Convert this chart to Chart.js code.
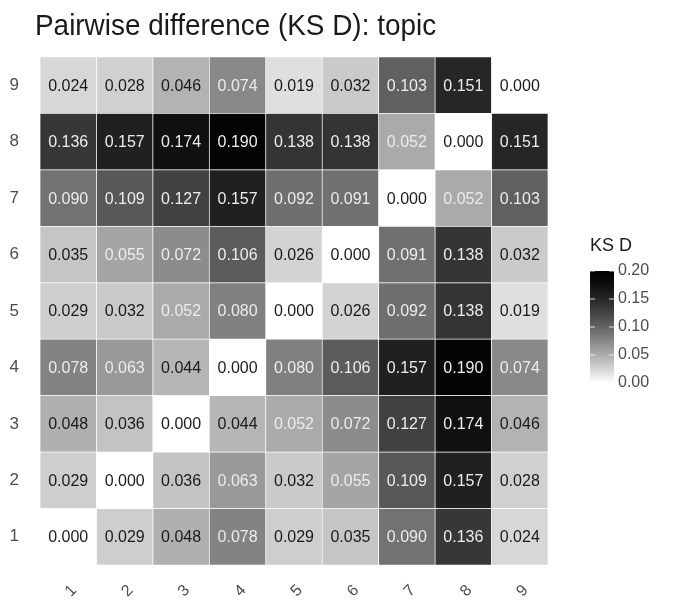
<!DOCTYPE html>
<html>
<head>
<meta charset="utf-8">
<script src="https://cdn.jsdelivr.net/npm/chart.js@4"></script>
<style>
  html, body { margin: 0; padding: 0; background: #fff; }
</style>
</head>
<body>
<canvas id="ksChart" width="674" height="601"></canvas>
<script>
  // topics on both axes
  const topics = ['1', '2', '3', '4', '5', '6', '7', '8', '9'];
  // KS D values, one row per y topic (row 1 is the bottom row)
  const row1 = [0.000, 0.029, 0.048, 0.078, 0.029, 0.035, 0.090, 0.136, 0.024];
  const row2 = [0.029, 0.000, 0.036, 0.063, 0.032, 0.055, 0.109, 0.157, 0.028];
  const row3 = [0.048, 0.036, 0.000, 0.044, 0.052, 0.072, 0.127, 0.174, 0.046];
  const row4 = [0.078, 0.063, 0.044, 0.000, 0.080, 0.106, 0.157, 0.190, 0.074];
  const row5 = [0.029, 0.032, 0.052, 0.080, 0.000, 0.026, 0.092, 0.138, 0.019];
  const row6 = [0.035, 0.055, 0.072, 0.106, 0.026, 0.000, 0.091, 0.138, 0.032];
  const row7 = [0.090, 0.109, 0.127, 0.157, 0.092, 0.091, 0.000, 0.052, 0.103];
  const row8 = [0.136, 0.157, 0.174, 0.190, 0.138, 0.138, 0.052, 0.000, 0.151];
  const row9 = [0.024, 0.028, 0.046, 0.074, 0.019, 0.032, 0.103, 0.151, 0.000];
  const rows = [row1, row2, row3, row4, row5, row6, row7, row8, row9];
  const legendTicks = [0.00, 0.05, 0.10, 0.15, 0.20];
  const maxD = 0.20;

  const FONT = '"Liberation Sans", Arial, Helvetica, sans-serif';

  function grayFor(v) {
    const t = Math.max(0, Math.min(1, 1 - v / maxD));
    const g = Math.round(255 * Math.pow(t, 1.35));
    return 'rgb(' + g + ',' + g + ',' + g + ')';
  }

  // value text in each cell
  const cellText = {
    id: 'cellText',
    afterDatasetsDraw(chart) {
      const ctx = chart.ctx;
      ctx.save();
      ctx.font = '16px ' + FONT;
      ctx.textAlign = 'center';
      ctx.textBaseline = 'middle';
      chart.data.datasets.forEach((ds, i) => {
        chart.getDatasetMeta(i).data.forEach((bar, j) => {
          const v = ds.values[j];
          ctx.fillStyle = v > 0.05 ? '#ececec' : '#1a1a1a';
          ctx.fillText(v.toFixed(3), bar.x, (bar.y + bar.base) / 2 + 1);
        });
      });
      ctx.restore();
    }
  };

  // title and colour bar legend
  const extras = {
    id: 'extras',
    afterDraw(chart) {
      const ctx = chart.ctx;
      ctx.save();
      ctx.fillStyle = '#1a1a1a';
      ctx.textAlign = 'left';
      ctx.textBaseline = 'alphabetic';
      // title is a bit narrower than Liberation Sans
      ctx.save();
      ctx.translate(35, 35);
      ctx.scale(0.93, 1);
      ctx.font = '30px ' + FONT;
      ctx.fillText('Pairwise difference (KS D): topic', 0, 0);
      ctx.restore();

      const x0 = 590, w = 24, top = 271, bottom = 383;
      ctx.font = '18px ' + FONT;
      ctx.fillText('KS D', x0, 251);

      const grad = ctx.createLinearGradient(0, bottom, 0, top);
      for (let k = 0; k <= 20; k++) {
        grad.addColorStop(k / 20, grayFor(maxD * k / 20));
      }
      ctx.fillStyle = grad;
      ctx.fillRect(x0, top, w, bottom - top);

      ctx.font = '16px ' + FONT;
      ctx.textBaseline = 'middle';
      legendTicks.forEach(t => {
        const y = bottom - (t / maxD) * (bottom - top);
        ctx.strokeStyle = 'rgba(255,255,255,0.8)';
        ctx.lineWidth = 1;
        ctx.beginPath();
        ctx.moveTo(x0, y); ctx.lineTo(x0 + 5, y);
        ctx.moveTo(x0 + w - 5, y); ctx.lineTo(x0 + w, y);
        ctx.stroke();
        ctx.fillStyle = '#4d4d4d';
        ctx.fillText(t.toFixed(2), x0 + w + 4, y);
      });
      ctx.restore();
    }
  };

  new Chart(document.getElementById('ksChart'), {
    type: 'bar',
    data: {
      labels: topics,
      datasets: rows.map((row, i) => ({
        label: topics[i],
        data: row.map(() => 1),
        values: row,
        backgroundColor: row.map(grayFor),
        borderColor: 'rgba(255,255,255,0.7)',
        borderWidth: 0.7,
        borderSkipped: false,
        barPercentage: 1,
        categoryPercentage: 1
      }))
    },
    options: {
      responsive: false,
      animation: false,
      layout: { padding: { top: 57, left: 0, right: 126, bottom: 0 } },
      plugins: {
        legend: { display: false },
        tooltip: { enabled: false },
        title: { display: false }
      },
      scales: {
        x: {
          stacked: true,
          grid: { display: false, drawTicks: false, tickLength: 0 },
          border: { display: false },
          ticks: {
            color: '#4d4d4d',
            font: { family: FONT, size: 16 },
            minRotation: 45,
            maxRotation: 45,
            padding: 16,
            labelOffset: 6
          },
          afterFit(scale) { scale.height = 36; }
        },
        y: {
          stacked: true,
          min: 0,
          max: topics.length,
          grid: { display: false, drawTicks: false, tickLength: 0 },
          border: { display: false },
          afterBuildTicks(axis) {
            axis.ticks = topics.map((t, i) => ({ value: i + 0.5 }));
          },
          ticks: {
            color: '#4d4d4d',
            font: { family: FONT, size: 17 },
            padding: 21,
            callback: (v, i) => topics[i]
          },
          afterFit(scale) { scale.width = 40; }
        }
      }
    },
    plugins: [cellText, extras]
  });
</script>
</body>
</html>
